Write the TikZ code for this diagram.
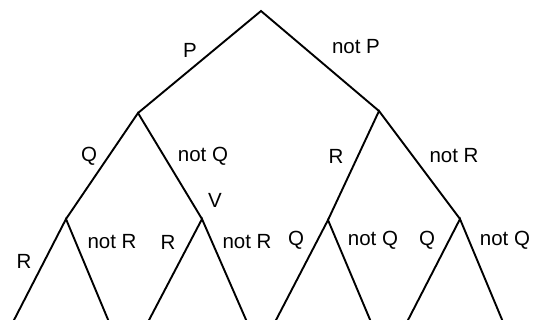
\documentclass[tikz,border=0pt]{standalone}
\usepackage{fontspec}
\setmainfont{Liberation Sans}
\begin{document}
\begin{tikzpicture}[x=1pt,y=-1pt,
  branch/.style={line width=1.9pt, line join=miter},
  lbl/.style={inner sep=0pt, font=\fontsize{20.5}{24}\selectfont}]
\useasboundingbox (0,0) rectangle (533,320);
% tree points
\coordinate (root) at (261,11);
\coordinate (p)  at (138,113);
\coordinate (np) at (379,111);
\coordinate (pq)  at (66,219);
\coordinate (pnq) at (202,219);
\coordinate (npr)  at (328,220);
\coordinate (npnr) at (460,219);
\coordinate (l1) at (13,322);
\coordinate (l2) at (109,322);
\coordinate (l3) at (148,322);
\coordinate (l4) at (247,322);
\coordinate (l5) at (275,322);
\coordinate (l6) at (371,322);
\coordinate (l7) at (407,322);
\coordinate (l8) at (503,322);
% branches
\draw[branch] (p) -- (root) -- (np);
\draw[branch] (pq) -- (p) -- (pnq);
\draw[branch] (npr) -- (np) -- (npnr);
\draw[branch] (l1) -- (pq) -- (l2);
\draw[branch] (l3) -- (pnq) -- (l4);
\draw[branch] (l5) -- (npr) -- (l6);
\draw[branch] (l7) -- (npnr) -- (l8);
% labels
\node[lbl] (tP)   at (190,50)  {P};
\node[lbl] (tnP)  at (356,47)  {not P};
\node[lbl] (tQ)   at (89,156)  {Q};
\node[lbl] (tnQ)  at (203,156) {not Q};
\node[lbl] (tV)   at (215,200) {V};
\node[lbl] (tR1)  at (336,156) {R};
\node[lbl] (tnR1) at (454,156) {not R};
\node[lbl] (tR2)  at (24,261)  {R};
\node[lbl] (tnR2) at (112,242) {not R};
\node[lbl] (tR3)  at (168,242) {R};
\node[lbl] (tnR3) at (247,242) {not R};
\node[lbl] (tQ2)  at (296,240) {Q};
\node[lbl] (tnQ2) at (373,240) {not Q};
\node[lbl] (tQ3)  at (427,240) {Q};
\node[lbl] (tnQ3) at (505,240) {not Q};
\end{tikzpicture}
\end{document}
